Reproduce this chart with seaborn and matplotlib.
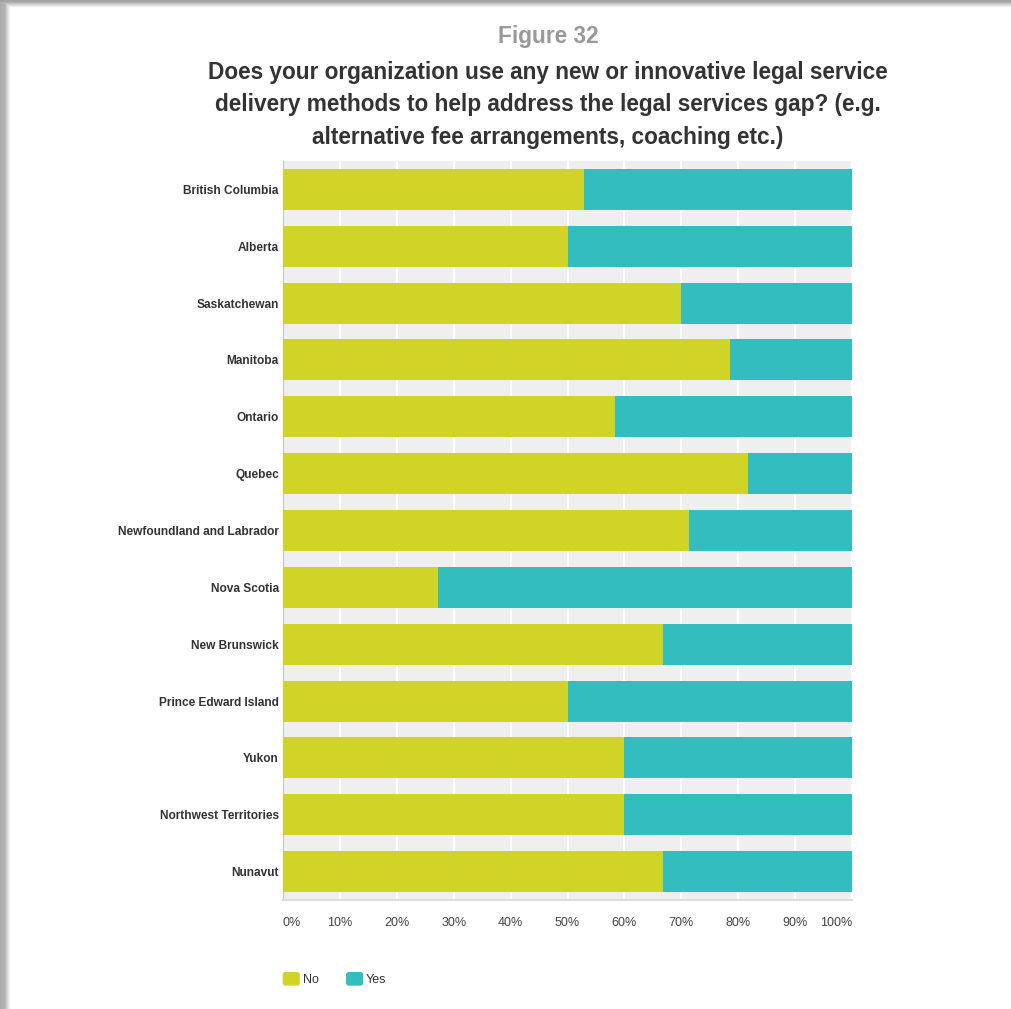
import numpy as np
import pandas as pd
import matplotlib
matplotlib.use("Agg")
import matplotlib.pyplot as plt
from matplotlib.patches import FancyBboxPatch, Patch
from matplotlib.legend_handler import HandlerPatch
import seaborn as sns

provinces = [
    "British Columbia", "Alberta", "Saskatchewan", "Manitoba", "Ontario",
    "Quebec", "Newfoundland and Labrador", "Nova Scotia", "New Brunswick",
    "Prince Edward Island", "Yukon", "Northwest Territories", "Nunavut",
]
no_pct = [52.9, 50.0, 70.0, 78.6, 58.3, 81.8, 71.4, 27.3, 66.7, 50.0, 60.0, 60.0, 66.7]
yes_pct = [47.1, 50.0, 30.0, 21.4, 41.7, 18.2, 28.6, 72.7, 33.3, 50.0, 40.0, 40.0, 33.3]
x_ticks = [0, 10, 20, 30, 40, 50, 60, 70, 80, 90, 100]
x_tick_labels = ["0%", "10%", "20%", "30%", "40%", "50%", "60%", "70%", "80%", "90%", "100%"]
series_names = ["No", "Yes"]

NO_COLOR = "#cfd427"
YES_COLOR = "#33bdbf"

df = pd.DataFrame({"province": provinces, "No": no_pct, "Yes": yes_pct})
df["total"] = df["No"] + df["Yes"]

sns.set_theme(style="white")
plt.rcParams["font.family"] = ["Liberation Sans", "DejaVu Sans"]

fig = plt.figure(figsize=(10.12, 10.09), dpi=100)

# page card with a soft shadow along the top and left edges
H, W = 1009, 1012
bg = np.ones((H, W, 3))
xs = np.arange(W)
ys = np.arange(H)
left_shade = np.clip((xs - 3) / 7.0, 0, 1)
left_shade[:4] = 0.1 + 0.1 * np.arange(4) / 4
top_shade = np.clip((ys - 1) / 6.0, 0, 1)
shade = np.minimum(left_shade[None, :], top_shade[:, None])
val = 0.64 + 0.36 * shade
bg *= val[:, :, None]
bg_ax = fig.add_axes([0, 0, 1, 1], zorder=-5)
bg_ax.imshow(bg, aspect="auto", interpolation="bilinear")
bg_ax.axis("off")

ax = fig.add_axes([283 / W, 1 - 900 / H, (852 - 283) / W, (900 - 161) / H])
ax.set_facecolor("#efefef")

sns.barplot(data=df, x="total", y="province", color=YES_COLOR, orient="h",
            width=0.72, saturation=1, ax=ax, zorder=3, linewidth=0)
sns.barplot(data=df, x="No", y="province", color=NO_COLOR, orient="h",
            width=0.72, saturation=1, ax=ax, zorder=4, linewidth=0)

ax.set_xlim(0, 100)
ax.set_ylim(len(provinces) - 0.5, -0.5)
ax.set_xlabel("")
ax.set_ylabel("")
ax.set_xticks(x_ticks)
ax.set_xticklabels(x_tick_labels, fontsize=9, color="#444444")
tl = ax.get_xticklabels()
tl[0].set_horizontalalignment("left")
tl[-1].set_horizontalalignment("right")
ax.tick_params(axis="x", length=0, pad=12)
ax.tick_params(axis="y", length=0, pad=3)
for lab in ax.get_yticklabels():
    lab.set_fontweight("bold")
    lab.set_fontsize(8.6)
    lab.set_color("#333333")

ax.grid(axis="x", color="white", linewidth=1.6, zorder=1)
ax.set_axisbelow(True)
for side in ["top", "right"]:
    ax.spines[side].set_visible(False)
ax.spines["left"].set_color("#cccccc")
ax.spines["left"].set_linewidth(1.0)
ax.spines["bottom"].set_color("#dddddd")
ax.spines["bottom"].set_linewidth(1.5)

# titles
fig.text(548 / W, 1 - 37 / H, "Figure 32", ha="center", va="center",
         fontsize=16.3, fontweight="bold", color="#999999")
title_lines = [
    "Does your organization use any new or innovative legal service",
    "delivery methods to help address the legal services gap? (e.g.",
    "alternative fee arrangements, coaching etc.)",
]
for i, line in enumerate(title_lines):
    fig.text(548 / W, 1 - (72.5 + 32.5 * i) / H, line, ha="center", va="center",
             fontsize=16.3, fontweight="bold", color="#333333")

# legend with rounded swatches
class RoundedHandler(HandlerPatch):
    def create_artists(self, legend, orig_handle, xdescent, ydescent, width,
                       height, fontsize, trans):
        p = FancyBboxPatch((-xdescent + 1, -ydescent), width - 2, height,
                           boxstyle="round,pad=0,rounding_size=2",
                           facecolor=orig_handle.get_facecolor(),
                           edgecolor="none", transform=trans)
        return [p]

handles = [Patch(color=NO_COLOR), Patch(color=YES_COLOR)]
leg = fig.legend(handles, series_names, loc="center left",
                 bbox_to_anchor=(270 / W, 1 - 979 / H), ncol=2, frameon=False,
                 fontsize=9, handlelength=1.6, handleheight=1.3,
                 handletextpad=0.1, columnspacing=2.1,
                 handler_map={Patch: RoundedHandler()})
for t in leg.get_texts():
    t.set_color("#333333")

fig.savefig("out.png", dpi=100)
